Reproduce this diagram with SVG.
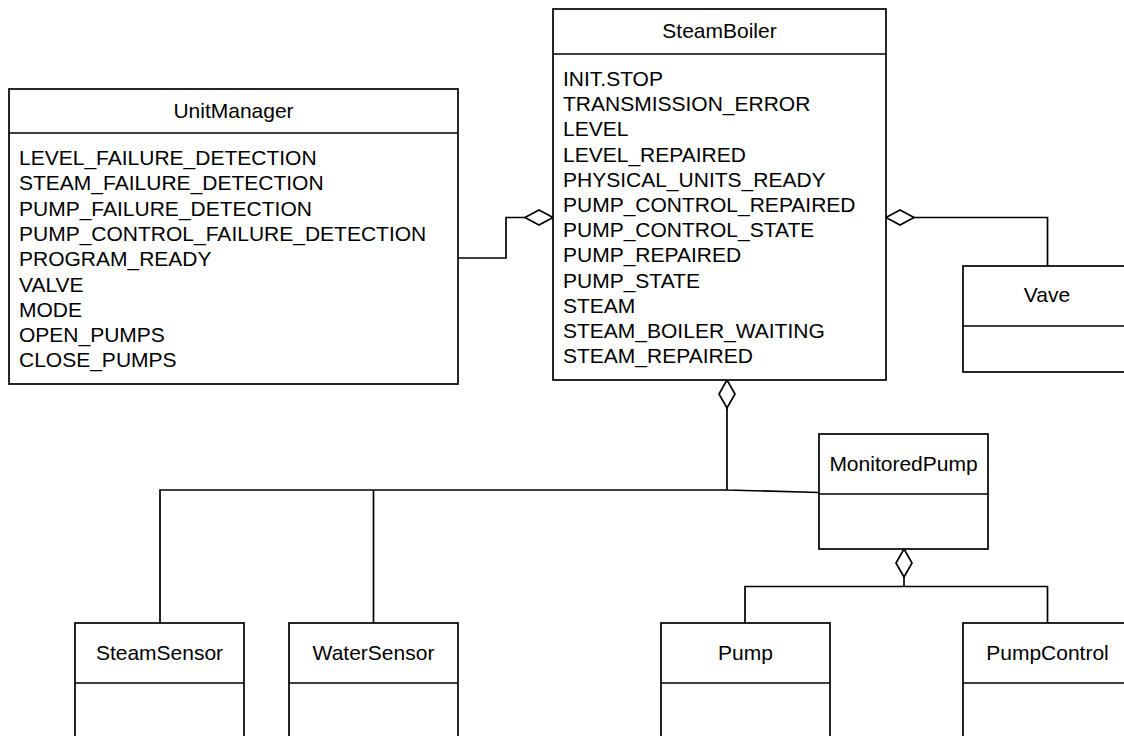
<svg xmlns="http://www.w3.org/2000/svg" width="1124" height="736" viewBox="0 0 1124 736">
<style>
.box{fill:#fff;stroke:#000;stroke-width:1.7}
.div{stroke:#000;stroke-width:1.7}
.t{font-family:"Liberation Sans",Arial,sans-serif;font-size:21px;fill:#000}
.c{text-anchor:middle}
.edge{fill:none;stroke:#000;stroke-width:1.7}
.dia{fill:#fff;stroke:#000;stroke-width:1.7}
</style>
<rect width="1124" height="736" fill="#fff"/>
<g id="connectors">
<polyline class="edge" points="458,258 506,258 506,217.5 525,217.5"/>
<polygon class="dia" points="553,217.5 539,210 525,217.5 539,225"/>
<polyline class="edge" points="914,217.5 1047.5,217.5 1047.5,266"/>
<polygon class="dia" points="886,217.5 900,210 914,217.5 900,225"/>
<polyline class="edge" points="727,408 727,490 819,492.5"/>
<polygon class="dia" points="727,380 735,394 727,408 719,394"/>
<polyline class="edge" points="160,623 160,490 727,490"/>
<line class="edge" x1="373.5" y1="490" x2="373.5" y2="623"/>
<polyline class="edge" points="745,623 745,586.5 1047.5,586.5 1047.5,623"/>
<line class="edge" x1="904" y1="577" x2="904" y2="586.5"/>
<polygon class="dia" points="904,549 912,563 904,577 896,563"/>
</g>
<g id="UnitManager">
<rect class="box" x="9" y="89" width="449" height="295"/>
<line class="div" x1="9" y1="133" x2="458" y2="133"/>
<text class="t c" x="233.5" y="117.5">UnitManager</text>
<text class="t" x="19" y="165">LEVEL_FAILURE_DETECTION</text>
<text class="t" x="19" y="190.3">STEAM_FAILURE_DETECTION</text>
<text class="t" x="19" y="215.6">PUMP_FAILURE_DETECTION</text>
<text class="t" x="19" y="240.9">PUMP_CONTROL_FAILURE_DETECTION</text>
<text class="t" x="19" y="266.2">PROGRAM_READY</text>
<text class="t" x="19" y="291.5">VALVE</text>
<text class="t" x="19" y="316.8">MODE</text>
<text class="t" x="19" y="342.1">OPEN_PUMPS</text>
<text class="t" x="19" y="367.4">CLOSE_PUMPS</text>
</g>
<g id="SteamBoiler">
<rect class="box" x="553" y="9" width="333" height="371"/>
<line class="div" x1="553" y1="54" x2="886" y2="54"/>
<text class="t c" x="719.5" y="37.5">SteamBoiler</text>
<text class="t" x="563" y="86">INIT.STOP</text>
<text class="t" x="563" y="111.2">TRANSMISSION_ERROR</text>
<text class="t" x="563" y="136.4">LEVEL</text>
<text class="t" x="563" y="161.6">LEVEL_REPAIRED</text>
<text class="t" x="563" y="186.8">PHYSICAL_UNITS_READY</text>
<text class="t" x="563" y="212">PUMP_CONTROL_REPAIRED</text>
<text class="t" x="563" y="237.2">PUMP_CONTROL_STATE</text>
<text class="t" x="563" y="262.4">PUMP_REPAIRED</text>
<text class="t" x="563" y="287.6">PUMP_STATE</text>
<text class="t" x="563" y="312.8">STEAM</text>
<text class="t" x="563" y="338">STEAM_BOILER_WAITING</text>
<text class="t" x="563" y="363.2">STEAM_REPAIRED</text>
</g>
<g id="Vave">
<rect class="box" x="963" y="266" width="170" height="106"/>
<line class="div" x1="963" y1="326" x2="1133" y2="326"/>
<text class="t c" x="1047" y="302">Vave</text>
</g>
<g id="MonitoredPump">
<rect class="box" x="819" y="434" width="169" height="115"/>
<line class="div" x1="819" y1="494" x2="988" y2="494"/>
<text class="t c" x="903.5" y="471">MonitoredPump</text>
</g>
<g id="SteamSensor">
<rect class="box" x="75" y="623" width="169" height="130"/>
<line class="div" x1="75" y1="683" x2="244" y2="683"/>
<text class="t c" x="159.5" y="660">SteamSensor</text>
</g>
<g id="WaterSensor">
<rect class="box" x="289" y="623" width="169" height="130"/>
<line class="div" x1="289" y1="683" x2="458" y2="683"/>
<text class="t c" x="373.5" y="660">WaterSensor</text>
</g>
<g id="Pump">
<rect class="box" x="661" y="623" width="169" height="130"/>
<line class="div" x1="661" y1="683" x2="830" y2="683"/>
<text class="t c" x="745.5" y="660">Pump</text>
</g>
<g id="PumpControl">
<rect class="box" x="963" y="623" width="169" height="130"/>
<line class="div" x1="963" y1="683" x2="1132" y2="683"/>
<text class="t c" x="1047.5" y="660">PumpControl</text>
</g>
</svg>
